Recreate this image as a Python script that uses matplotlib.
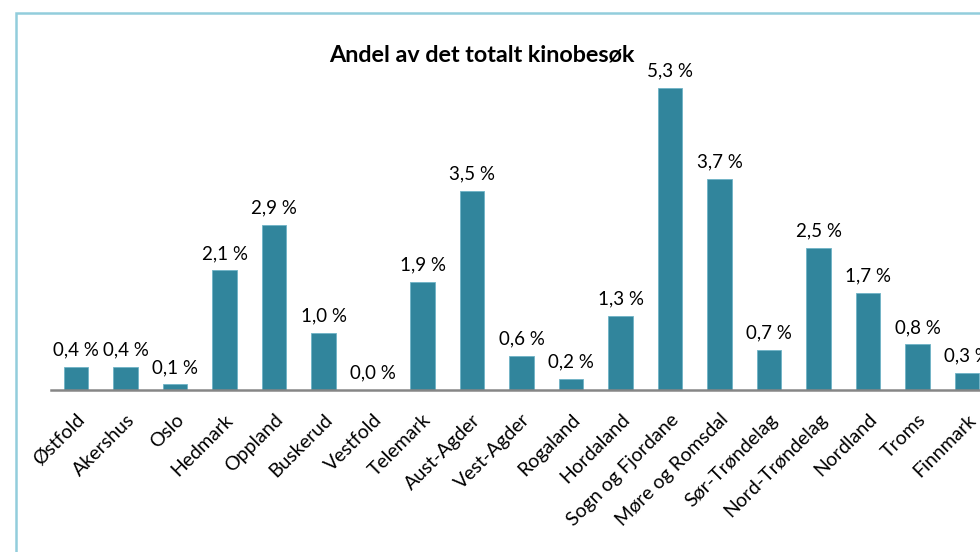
import matplotlib.pyplot as plt
from matplotlib.patches import Rectangle

# Data
fylker = ['Østfold', 'Akershus', 'Oslo', 'Hedmark', 'Oppland', 'Buskerud', 'Vestfold',
          'Telemark', 'Aust-Agder', 'Vest-Agder', 'Rogaland', 'Hordaland',
          'Sogn og Fjordane', 'Møre og Romsdal', 'Sør-Trøndelag', 'Nord-Trøndelag',
          'Nordland', 'Troms', 'Finnmark']
andel = [0.4, 0.4, 0.1, 2.1, 2.9, 1.0, 0.0, 1.9, 3.5, 0.6, 0.2, 1.3, 5.3, 3.7, 0.7,
         2.5, 1.7, 0.8, 0.3]

plt.rcParams['font.family'] = ['Lato', 'DejaVu Sans']

fig = plt.figure(figsize=(9.8, 5.52), dpi=100)

# frame of the chart area (cut off right and bottom, as in the source)
W, H = 980, 552
fig.patches.append(Rectangle((16 / W, -0.1), 1.2, (H - 13) / H + 0.1,
                             transform=fig.transFigure, fill=False,
                             edgecolor='#92CDDC', linewidth=1.8))

ax = fig.add_axes([51.25 / W, (H - 390) / H, 940.5 / W, 342 / H])
x = range(len(fylker))
bars = ax.bar(x, andel, width=0.49, color='#31859C', edgecolor='#6FB3C6', linewidth=0.6)

for xi, v in zip(x, andel):
    ax.annotate(f'{v:.1f} %'.replace('.', ','), (xi, v), xytext=(0, 6),
                textcoords='offset points', ha='center', va='bottom', fontsize=13.5)

ax.set_xlim(-0.5, len(fylker) - 0.5)
ax.set_ylim(0, 6)
ax.set_yticks([])
for s in ['top', 'right', 'left']:
    ax.spines[s].set_visible(False)
ax.spines['bottom'].set_color('#868686')
ax.spines['bottom'].set_linewidth(1.8)

ax.set_xticks(list(x))
ax.set_xticklabels(fylker, rotation=45, ha='right', rotation_mode='anchor', fontsize=14)
ax.tick_params(axis='x', length=0, pad=15)

fig.text(482 / W, 1 - 55 / H, 'Andel av det totalt kinobesøk', ha='center', va='center',
         fontsize=16.8, fontweight='bold')

fig.savefig('out.png', dpi=100)
